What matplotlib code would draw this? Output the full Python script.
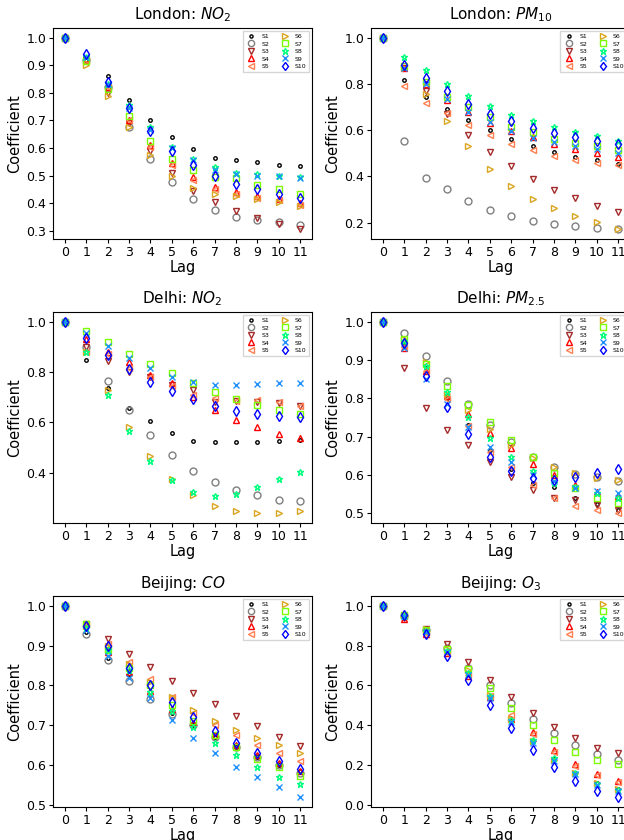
import matplotlib
matplotlib.use("Agg")
import matplotlib.pyplot as plt
from matplotlib.ticker import MultipleLocator

lags = list(range(12))
series = ['S1', 'S2', 'S3', 'S4', 'S5', 'S6', 'S7', 'S8', 'S9', 'S10']

# marker style for each series
markers = ['o', 'o', 'v', '^', '<', '>', 's', '*', 'x', 'd']
colors = ['black', 'grey', 'brown', 'red', 'coral', 'goldenrod',
          'lawngreen', 'springgreen', 'dodgerblue', 'blue']

# London NO2, one row per series S1..S10
london_no2 = [
    [1.0, 0.92, 0.86, 0.775, 0.70, 0.64, 0.595, 0.565, 0.555, 0.55, 0.54, 0.535],
    [1.0, 0.92, 0.82, 0.675, 0.56, 0.475, 0.415, 0.375, 0.35, 0.34, 0.33, 0.32],
    [1.0, 0.92, 0.80, 0.69, 0.59, 0.51, 0.445, 0.405, 0.37, 0.345, 0.325, 0.305],
    [1.0, 0.92, 0.82, 0.70, 0.61, 0.545, 0.495, 0.46, 0.44, 0.425, 0.415, 0.40],
    [1.0, 0.92, 0.82, 0.70, 0.605, 0.54, 0.485, 0.45, 0.435, 0.42, 0.41, 0.395],
    [1.0, 0.90, 0.79, 0.675, 0.575, 0.50, 0.455, 0.435, 0.425, 0.415, 0.405, 0.39],
    [1.0, 0.915, 0.815, 0.715, 0.625, 0.56, 0.52, 0.495, 0.49, 0.465, 0.45, 0.435],
    [1.0, 0.93, 0.83, 0.755, 0.675, 0.605, 0.56, 0.53, 0.51, 0.505, 0.50, 0.495],
    [1.0, 0.93, 0.83, 0.745, 0.665, 0.60, 0.555, 0.52, 0.505, 0.50, 0.50, 0.49],
    [1.0, 0.94, 0.84, 0.745, 0.66, 0.59, 0.54, 0.50, 0.47, 0.45, 0.435, 0.42],
]

london_pm10 = [
    [1.0, 0.818, 0.745, 0.69, 0.642, 0.60, 0.562, 0.53, 0.505, 0.485, 0.47, 0.455],
    [1.0, 0.552, 0.394, 0.346, 0.292, 0.256, 0.228, 0.209, 0.196, 0.185, 0.177, 0.171],
    [1.0, 0.87, 0.767, 0.67, 0.58, 0.506, 0.444, 0.39, 0.343, 0.305, 0.27, 0.244],
    [1.0, 0.87, 0.80, 0.73, 0.68, 0.63, 0.595, 0.57, 0.54, 0.52, 0.50, 0.485],
    [1.0, 0.79, 0.717, 0.674, 0.624, 0.58, 0.542, 0.515, 0.49, 0.47, 0.46, 0.45],
    [1.0, 0.87, 0.756, 0.638, 0.53, 0.433, 0.36, 0.303, 0.262, 0.231, 0.203, 0.171],
    [1.0, 0.875, 0.81, 0.745, 0.70, 0.655, 0.615, 0.59, 0.56, 0.545, 0.53, 0.515],
    [1.0, 0.918, 0.86, 0.80, 0.746, 0.705, 0.667, 0.64, 0.613, 0.592, 0.575, 0.555],
    [1.0, 0.868, 0.80, 0.734, 0.677, 0.633, 0.595, 0.567, 0.55, 0.53, 0.52, 0.503],
    [1.0, 0.882, 0.825, 0.767, 0.714, 0.67, 0.638, 0.61, 0.588, 0.57, 0.555, 0.54],
]

delhi_no2 = [
    [1.0, 0.846, 0.736, 0.657, 0.605, 0.558, 0.528, 0.521, 0.521, 0.524, 0.528, 0.53],
    [1.0, 0.90, 0.766, 0.648, 0.55, 0.471, 0.409, 0.363, 0.331, 0.31, 0.294, 0.29],
    [1.0, 0.90, 0.844, 0.80, 0.78, 0.75, 0.73, 0.68, 0.685, 0.68, 0.675, 0.665],
    [1.0, 0.93, 0.88, 0.84, 0.789, 0.755, 0.70, 0.648, 0.61, 0.583, 0.555, 0.54],
    [1.0, 0.88, 0.87, 0.815, 0.78, 0.745, 0.71, 0.697, 0.685, 0.687, 0.68, 0.666],
    [1.0, 0.88, 0.73, 0.582, 0.466, 0.376, 0.31, 0.27, 0.248, 0.239, 0.239, 0.248],
    [1.0, 0.964, 0.917, 0.872, 0.832, 0.796, 0.756, 0.72, 0.694, 0.67, 0.65, 0.635],
    [1.0, 0.88, 0.71, 0.565, 0.448, 0.371, 0.323, 0.307, 0.317, 0.344, 0.377, 0.402],
    [1.0, 0.954, 0.904, 0.855, 0.815, 0.78, 0.76, 0.749, 0.749, 0.753, 0.755, 0.755],
    [1.0, 0.934, 0.867, 0.81, 0.759, 0.723, 0.694, 0.666, 0.646, 0.633, 0.627, 0.62],
]

delhi_pm25 = [
    [1.0, 0.94, 0.88, 0.80, 0.73, 0.665, 0.615, 0.58, 0.57, 0.539, 0.525, 0.51],
    [1.0, 0.97, 0.909, 0.846, 0.785, 0.73, 0.685, 0.648, 0.62, 0.603, 0.595, 0.585],
    [1.0, 0.878, 0.774, 0.717, 0.677, 0.635, 0.596, 0.561, 0.54, 0.535, 0.522, 0.51],
    [1.0, 0.93, 0.87, 0.805, 0.76, 0.71, 0.67, 0.63, 0.60, 0.575, 0.555, 0.545],
    [1.0, 0.935, 0.87, 0.797, 0.727, 0.66, 0.62, 0.575, 0.539, 0.519, 0.509, 0.50],
    [1.0, 0.955, 0.895, 0.81, 0.77, 0.72, 0.678, 0.645, 0.62, 0.604, 0.591, 0.587],
    [1.0, 0.955, 0.89, 0.832, 0.783, 0.737, 0.691, 0.646, 0.604, 0.565, 0.539, 0.528],
    [1.0, 0.95, 0.884, 0.817, 0.75, 0.696, 0.648, 0.611, 0.58, 0.57, 0.552, 0.54],
    [1.0, 0.93, 0.85, 0.785, 0.726, 0.674, 0.635, 0.60, 0.585, 0.565, 0.559, 0.552],
    [1.0, 0.945, 0.859, 0.777, 0.707, 0.648, 0.611, 0.591, 0.587, 0.596, 0.606, 0.615],
]

beijing_co = [
    [1.0, 0.935, 0.87, 0.83, 0.775, 0.73, 0.70, 0.67, 0.645, 0.62, 0.60, 0.585],
    [1.0, 0.929, 0.865, 0.811, 0.765, 0.728, 0.70, 0.67, 0.645, 0.62, 0.60, 0.58],
    [1.0, 0.955, 0.917, 0.88, 0.846, 0.811, 0.782, 0.753, 0.724, 0.699, 0.672, 0.649],
    [1.0, 0.955, 0.883, 0.835, 0.785, 0.74, 0.705, 0.675, 0.65, 0.625, 0.605, 0.585],
    [1.0, 0.955, 0.905, 0.859, 0.817, 0.77, 0.73, 0.70, 0.675, 0.65, 0.63, 0.61],
    [1.0, 0.95, 0.90, 0.855, 0.81, 0.772, 0.738, 0.711, 0.689, 0.668, 0.65, 0.632],
    [1.0, 0.955, 0.89, 0.845, 0.80, 0.75, 0.71, 0.675, 0.645, 0.617, 0.595, 0.574],
    [1.0, 0.945, 0.89, 0.84, 0.784, 0.736, 0.697, 0.657, 0.625, 0.596, 0.572, 0.553],
    [1.0, 0.94, 0.875, 0.82, 0.769, 0.713, 0.669, 0.63, 0.597, 0.571, 0.545, 0.52],
    [1.0, 0.948, 0.898, 0.844, 0.802, 0.759, 0.72, 0.687, 0.657, 0.632, 0.611, 0.591],
]

beijing_o3 = [
    [1.0, 0.95, 0.87, 0.77, 0.66, 0.545, 0.42, 0.32, 0.23, 0.16, 0.11, 0.08],
    [1.0, 0.95, 0.88, 0.79, 0.69, 0.60, 0.51, 0.43, 0.36, 0.30, 0.255, 0.225],
    [1.0, 0.94, 0.885, 0.806, 0.718, 0.626, 0.543, 0.46, 0.394, 0.336, 0.286, 0.261],
    [1.0, 0.935, 0.86, 0.765, 0.65, 0.54, 0.43, 0.365, 0.275, 0.205, 0.155, 0.12],
    [1.0, 0.95, 0.865, 0.765, 0.655, 0.545, 0.45, 0.355, 0.265, 0.195, 0.15, 0.115],
    [1.0, 0.955, 0.885, 0.785, 0.68, 0.55, 0.43, 0.32, 0.225, 0.16, 0.11, 0.08],
    [1.0, 0.955, 0.88, 0.785, 0.684, 0.585, 0.485, 0.40, 0.327, 0.269, 0.228, 0.206],
    [1.0, 0.95, 0.875, 0.775, 0.665, 0.545, 0.425, 0.325, 0.235, 0.16, 0.105, 0.075],
    [1.0, 0.95, 0.87, 0.77, 0.655, 0.535, 0.415, 0.31, 0.22, 0.155, 0.10, 0.07],
    [1.0, 0.953, 0.859, 0.746, 0.626, 0.502, 0.385, 0.277, 0.191, 0.123, 0.073, 0.04],
]

panels = [
    ('London: $NO_2$', london_no2, 0.1),
    ('London: $PM_{10}$', london_pm10, 0.2),
    ('Delhi: $NO_2$', delhi_no2, 0.2),
    ('Delhi: $PM_{2.5}$', delhi_pm25, 0.1),
    ('Beijing: $CO$', beijing_co, 0.1),
    ('Beijing: $O_3$', beijing_o3, 0.2),
]

fig = plt.figure(figsize=(6.24, 8.40), dpi=100)

lefts = [0.085, 0.5946]
bottoms = [0.7155, 0.3774, 0.0393]
w, h = 0.415, 0.2512

for k, (title, data, step) in enumerate(panels):
    ax = fig.add_axes([lefts[k % 2], bottoms[k // 2], w, h])
    for i, name in enumerate(series):
        ms = 2.5 if i == 0 else 5
        if markers[i] == 'x':
            ax.plot(lags, data[i], linestyle='none', marker='x', color=colors[i],
                    markersize=ms, markeredgewidth=1.0, label=name)
        else:
            ax.plot(lags, data[i], linestyle='none', marker=markers[i],
                    markerfacecolor='none', markeredgecolor=colors[i],
                    markersize=ms, markeredgewidth=1.0, label=name)
    ax.set_title(title, fontsize=11)
    ax.set_xlabel('Lag', fontsize=10.5, labelpad=1)
    ax.set_ylabel('Coefficient', fontsize=10.5, labelpad=3)
    ax.set_xticks(lags)
    ax.yaxis.set_major_locator(MultipleLocator(step))
    ax.tick_params(labelsize=9, length=3, pad=2)
    ax.legend(loc='upper right', ncol=2, fontsize=4.5, labelspacing=0.35,
              handletextpad=0.6, columnspacing=1.5, borderpad=0.4,
              markerscale=0.9, fancybox=False, framealpha=0.8)

fig.savefig('out.png', dpi=100)
